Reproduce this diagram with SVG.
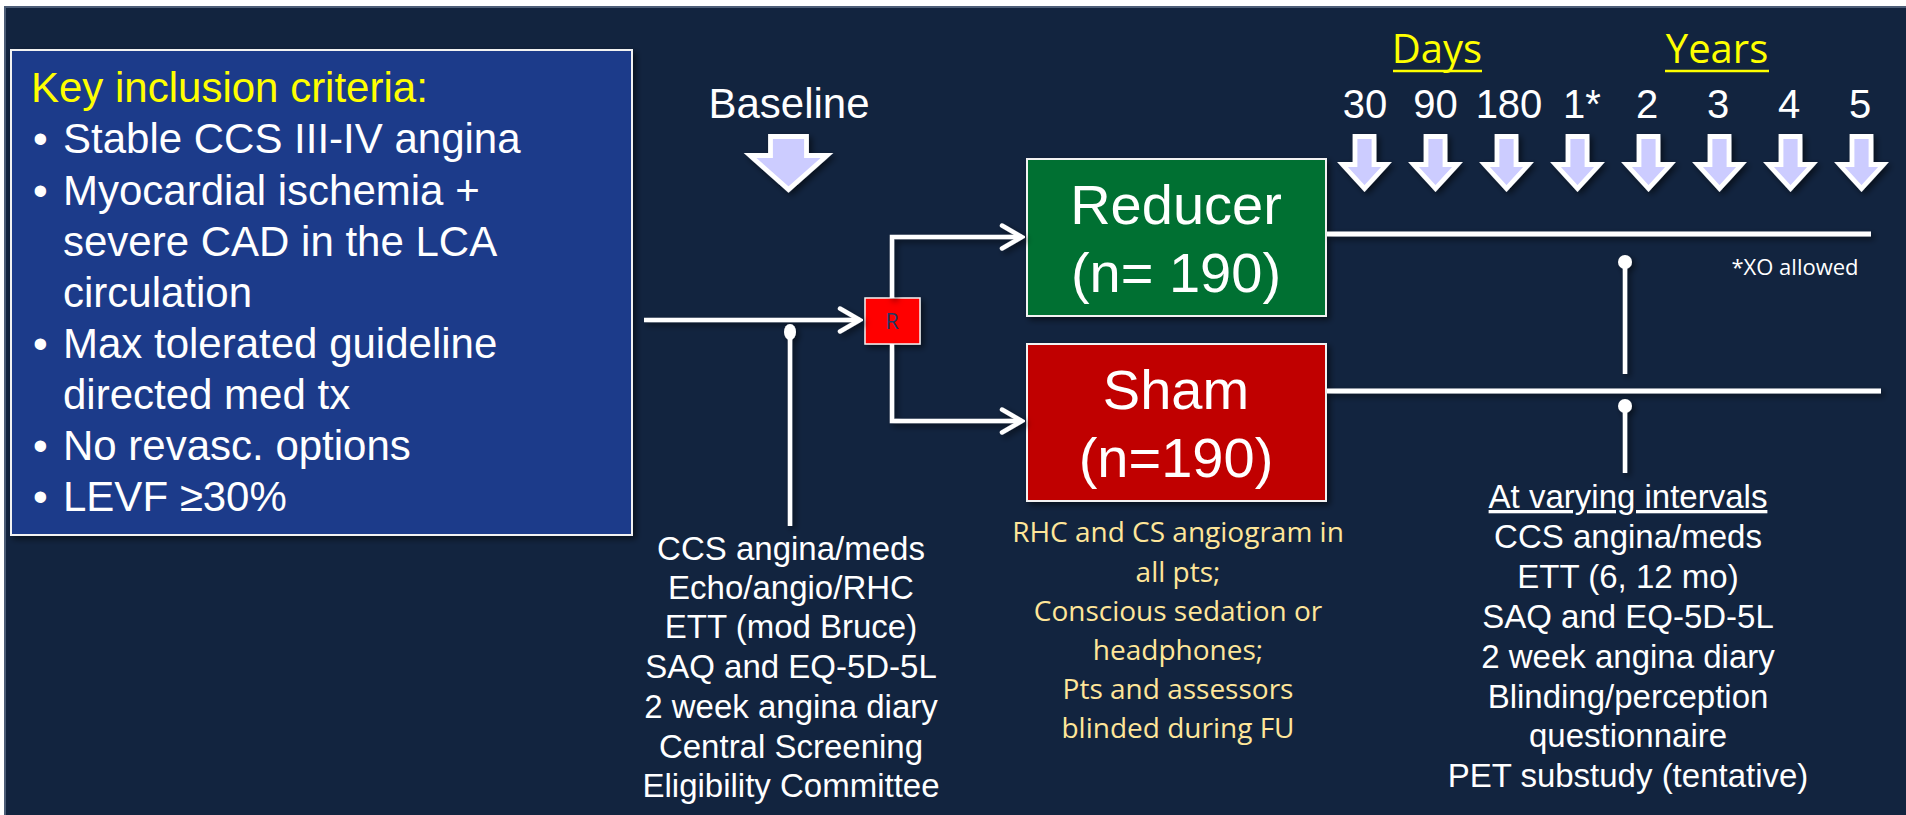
<svg xmlns="http://www.w3.org/2000/svg" width="1906" height="815" viewBox="0 0 1906 815">
<style>
.ar{font-family:"Liberation Sans",Arial,sans-serif;}
.ca{font-family:"Open Sans","Noto Sans",sans-serif;}
.w{fill:#FFFFFF;}
.conn{stroke:#FFFFFF;stroke-width:4.5;fill:none;}
.tl{stroke:#FFFFFF;stroke-width:5;fill:none;}
.dl{fill:#CCCCFF;stroke:#FFFFFF;stroke-width:4.8;stroke-linejoin:miter;}
.box{stroke:#F2F2F2;stroke-width:2;}
</style>
<defs>
<filter id="sh" x="-20%" y="-20%" width="150%" height="150%">
<feDropShadow dx="3" dy="3" stdDeviation="3" flood-color="#000000" flood-opacity="0.55"/>
</filter>
<marker id="chev" viewBox="0 0 26 28" refX="23" refY="14" markerWidth="26" markerHeight="28" markerUnits="userSpaceOnUse" orient="auto">
<path d="M3,2.5 L23,14 L3,25.5" fill="none" stroke="#FFFFFF" stroke-width="4.5" stroke-linecap="round" stroke-linejoin="miter"/>
</marker>
<path id="sarrow" class="dl" d="M-9.5,0 L9.5,0 L9.5,28 L22,28 L0,52 L-22,28 L-9.5,28 Z"/>
</defs>

<rect x="0" y="0" width="1906" height="815" fill="#FFFFFF"/>
<rect x="5" y="7" width="1905" height="812" fill="#12243F" stroke="#4C5D77" stroke-width="2"/>

<g id="inclusion-criteria">
<rect class="box" x="11" y="50" width="621" height="485" fill="#1A3A8A" filter="url(#sh)"/>
<text class="ar" x="31" y="102" font-size="42" fill="#FFFF00">Key inclusion criteria:</text>
<g class="ar w" font-size="42">
<text x="33" y="153">•</text><text x="63" y="153">Stable CCS III-IV angina</text>
<text x="33" y="205">•</text><text x="63" y="205">Myocardial ischemia +</text>
<text x="63" y="256">severe CAD in the LCA</text>
<text x="63" y="307">circulation</text>
<text x="33" y="358">•</text><text x="63" y="358">Max tolerated guideline</text>
<text x="63" y="409">directed med tx</text>
<text x="33" y="460">•</text><text x="63" y="460">No revasc. options</text>
<text x="33" y="511">•</text><text x="63" y="511">LEVF ≥30%</text>
</g>
</g>

<g id="baseline">
<text class="ar w" x="789" y="118" font-size="42" text-anchor="middle">Baseline</text>
<path class="dl" filter="url(#sh)" d="M770.5,136.5 L806.5,136.5 L806.5,155.5 L827,155.5 L788.5,189.5 L750,155.5 L770.5,155.5 Z"/>
</g>

<g id="randomization">
<rect x="865" y="298" width="55" height="46" fill="#FF0000" stroke="#F2F2F2" stroke-width="1.5" filter="url(#sh)"/>
<text class="ca" x="892" y="329" font-size="22" fill="#1F3864" text-anchor="middle">R</text>
</g>

<g id="reducer">
<rect class="box" x="1027" y="159" width="299" height="157" fill="#017033" filter="url(#sh)"/>
<text class="ar w" x="1176" y="224" font-size="56" text-anchor="middle">Reducer</text>
<text class="ar w" x="1176" y="292" font-size="56" text-anchor="middle">(n= 190)</text>
</g>

<g id="sham">
<rect class="box" x="1027" y="344" width="299" height="157" fill="#C00000" filter="url(#sh)"/>
<text class="ar w" x="1176" y="409" font-size="56" text-anchor="middle">Sham</text>
<text class="ar w" x="1176" y="477" font-size="56" text-anchor="middle">(n=190)</text>
</g>

<g id="timepoints">
<text class="ca" x="1437" y="63" font-size="40" fill="#FFFF00" text-anchor="middle">Days</text>
<line x1="1393" y1="71" x2="1482" y2="71" stroke="#FFFF00" stroke-width="2.5"/>
<text class="ca" x="1717" y="63" font-size="40" fill="#FFFF00" text-anchor="middle">Years</text>
<line x1="1665" y1="71" x2="1769" y2="71" stroke="#FFFF00" stroke-width="2.5"/>
<g class="ar w" font-size="40" text-anchor="middle">
<text x="1365" y="118">30</text>
<text x="1435.5" y="118">90</text>
<text x="1509" y="118">180</text>
<text x="1582" y="118">1*</text>
<text x="1647" y="118">2</text>
<text x="1718" y="118">3</text>
<text x="1789" y="118">4</text>
<text x="1860" y="118">5</text>
</g>
<g filter="url(#sh)">
<use href="#sarrow" x="1364.5" y="136.5"/>
<use href="#sarrow" x="1435.5" y="136.5"/>
<use href="#sarrow" x="1506.5" y="136.5"/>
<use href="#sarrow" x="1577.5" y="136.5"/>
<use href="#sarrow" x="1648.5" y="136.5"/>
<use href="#sarrow" x="1719.5" y="136.5"/>
<use href="#sarrow" x="1790.5" y="136.5"/>
<use href="#sarrow" x="1861.5" y="136.5"/>
</g>
<text class="ca w" x="1795" y="275" font-size="22" text-anchor="middle">*XO allowed</text>
</g>

<g id="connectors" filter="url(#sh)">
<line class="conn" x1="644" y1="320" x2="860" y2="320" marker-end="url(#chev)"/>
<path class="conn" d="M892,298 L892,237 L1022,237" marker-end="url(#chev)"/>
<path class="conn" d="M892,344 L892,421 L1022,421" marker-end="url(#chev)"/>
<line class="conn" x1="790" y1="332" x2="790" y2="526"/>
<ellipse cx="790" cy="332" rx="6" ry="8" fill="#FFFFFF"/>
<line class="tl" x1="1327" y1="234" x2="1871" y2="234"/>
<line class="tl" x1="1327" y1="391" x2="1881" y2="391"/>
<line class="conn" x1="1625" y1="262" x2="1625" y2="374"/>
<circle cx="1625" cy="262" r="7" fill="#FFFFFF"/>
<line class="conn" x1="1625" y1="406" x2="1625" y2="473"/>
<circle cx="1625" cy="406" r="7" fill="#FFFFFF"/>
</g>

<g id="baseline-assessments" class="ar w" font-size="33" text-anchor="middle">
<text x="791" y="560">CCS angina/meds</text>
<text x="791" y="599">Echo/angio/RHC</text>
<text x="791" y="638">ETT (mod Bruce)</text>
<text x="791" y="678">SAQ and EQ-5D-5L</text>
<text x="791" y="718">2 week angina diary</text>
<text x="791" y="758">Central Screening</text>
<text x="791" y="797">Eligibility Committee</text>
</g>

<g id="procedure-notes" class="ca" font-size="28" fill="#FFE699" text-anchor="middle">
<text x="1178" y="542">RHC and CS angiogram in</text>
<text x="1178" y="582">all pts;</text>
<text x="1178" y="621">Conscious sedation or</text>
<text x="1178" y="660">headphones;</text>
<text x="1178" y="699">Pts and assessors</text>
<text x="1178" y="738">blinded during FU</text>
</g>

<g id="followup-assessments" class="ar w" font-size="33" text-anchor="middle">
<text x="1628" y="508" text-decoration="underline">At varying intervals</text>
<text x="1628" y="548">CCS angina/meds</text>
<text x="1628" y="588">ETT (6, 12 mo)</text>
<text x="1628" y="628">SAQ and EQ-5D-5L</text>
<text x="1628" y="668">2 week angina diary</text>
<text x="1628" y="708">Blinding/perception</text>
<text x="1628" y="747">questionnaire</text>
<text x="1628" y="787">PET substudy (tentative)</text>
</g>
</svg>
